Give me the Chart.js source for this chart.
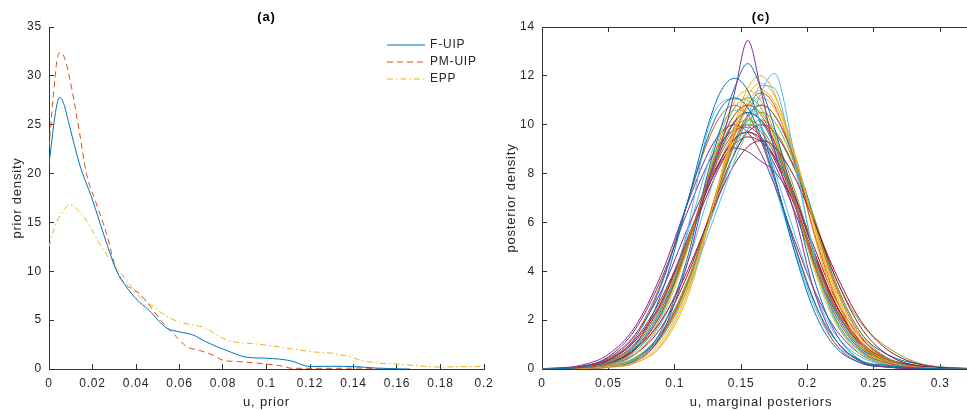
<!DOCTYPE html>
<html>
<head>
<meta charset="utf-8">
<script src="https://cdn.jsdelivr.net/npm/chart.js@4.4.0/dist/chart.umd.min.js"></script>
<style>
  html, body { margin: 0; padding: 0; background: #fff; overflow: hidden; width: 967px; height: 410px; }
  #priorChart { position: absolute; left: 0; top: 0; }
  #postChart { position: absolute; left: 500px; top: 0; }
</style>
</head>
<body>
<canvas id="priorChart" width="500" height="410"></canvas>
<canvas id="postChart" width="480" height="410"></canvas>
<script>
// ---- data, panel (a): prior densities
const fuipX = [0, 0.0034, 0.0049, 0.0067, 0.0095, 0.014, 0.020, 0.026, 0.031, 0.0356, 0.040, 0.046, 0.054, 0.060, 0.066, 0.072, 0.0816, 0.091, 0.100, 0.111, 0.120, 0.129, 0.140, 0.150, 0.160, 0.166];
const fuipY = [21.0, 26.8, 27.8, 27.2, 24.8, 21.0, 17.3, 13.2, 10.1, 8.4, 7.2, 6.0, 4.2, 3.8, 3.5, 2.8, 1.9, 1.2, 1.1, 0.85, 0.25, 0.28, 0.25, 0.1, 0.02, 0];
const pmuipX = [0, 0.0018, 0.0037, 0.0052, 0.0072, 0.0103, 0.0141, 0.0172, 0.0218, 0.0264, 0.031, 0.0356, 0.0417, 0.0479, 0.054, 0.0586, 0.0632, 0.0693, 0.0755, 0.080, 0.0877, 0.097, 0.106, 0.112, 0.130, 0.143, 0.152];
const pmuipY = [22.7, 27.5, 31.6, 32.4, 31.8, 28.9, 24.1, 20.0, 16.9, 13.9, 10.1, 8.6, 7.7, 6.0, 4.3, 3.3, 2.3, 1.9, 1.4, 0.9, 0.75, 0.58, 0.34, 0.07, 0.07, 0.1, 0];
const eppX = [0, 0.0026, 0.0057, 0.0095, 0.0126, 0.0172, 0.0233, 0.0294, 0.0356, 0.0417, 0.0479, 0.054, 0.060, 0.066, 0.072, 0.0785, 0.0847, 0.0939, 0.103, 0.112, 0.1215, 0.1307, 0.138, 0.1445, 0.152, 0.161, 0.1706, 0.180, 0.192, 0.200];
const eppY = [12.5, 14.6, 15.9, 16.8, 16.4, 15.2, 12.8, 10.8, 9.1, 7.4, 6.4, 5.4, 4.8, 4.5, 4.2, 3.3, 2.8, 2.6, 2.35, 2.05, 1.75, 1.6, 1.25, 0.85, 0.6, 0.5, 0.3, 0.2, 0.25, 0.25];
const priorXTicks = [0, 0.02, 0.04, 0.06, 0.08, 0.1, 0.12, 0.14, 0.16, 0.18, 0.2];
const priorYTicks = [0, 5, 10, 15, 20, 25, 30, 35];

// ---- data, panel (c): marginal posteriors (one row per run, on a shared u grid)
const postX = [0, 0.03, 0.05, 0.07, 0.09, 0.11, 0.125, 0.135, 0.145, 0.155, 0.165, 0.175, 0.19, 0.205, 0.22, 0.24, 0.26, 0.29, 0.322];
const posteriorY = [
  [0, .07, .34, 1.27, 3.45, 6.9, 9.5, 10.7, 11.1, 10.7, 9.5, 7.85, 5.1, 2.76, 1.27, .34, .15, .02, 0],
  [0, .05, .2, .77, 2.31, 5.15, 7.77, 9.33, 10.4, 10.8, 10.4, 9.33, 6.9, 4.33, 2.31, .77, .25, .04, 0],
  [0, .02, .1, .29, 1.14, 3.32, 5.93, 7.9, 9.69, 10.95, 11.4, 10.95, 8.83, 5.93, 3.32, 1.14, .35, .05, 0],
  [0, .02, .1, .3, 1.4, 4.4, 7.6, 9.2, 11.3, 13.45, 11.4, 9.0, 6.4, 3.2, 1.3, .3, .08, .01, 0],
  [0, .06, .27, .95, 2.54, 5.24, 7.59, 8.94, 9.87, 10.2, 9.87, 8.94, 6.82, 4.49, 2.54, .95, .3, .04, 0],
  [0, .02, .1, .4, 1.3, 3.3, 5.5, 7.0, 8.5, 9.8, 11.3, 12.1, 8.8, 4.6, 2.1, .7, .25, .04, 0],
  [0, .06, .25, .8, 1.99, 4.07, 6.03, 7.31, 8.38, 9.1, 9.35, 9.1, 7.88, 6.03, 4.07, 1.99, .8, .13, .01],
  [0, .02, .1, .36, 1.59, 4.64, 8.05, 9.9, 11.5, 12.5, 11.5, 9.9, 6.9, 3.69, 1.59, .36, .1, .02, 0],
  [0, .08, .32, 1.05, 2.67, 5.31, 7.55, 8.83, 9.69, 10.0, 9.69, 8.83, 6.82, 4.58, 2.67, 1.05, .32, .04, 0],
  [0, .02, .08, .24, 1.02, 3.16, 5.84, 7.93, 9.84, 11.2, 11.7, 11.2, 8.93, 5.84, 3.16, 1.02, .3, .04, 0],
  [0, .06, .3, 1.0, 2.7, 5.4, 7.4, 8.5, 9.05, 8.9, 8.5, 8.1, 6.8, 4.6, 2.6, 1.0, .35, .05, 0],
  [0, .02, .11, .46, 1.49, 3.68, 6.05, 7.69, 9.15, 10.14, 10.5, 10.14, 8.45, 6.05, 3.68, 1.49, .46, .05, 0],
  [0, .04, .18, .7, 2.2, 5.8, 9.8, 10.9, 11.05, 11.0, 10.0, 8.2, 5.6, 3.2, 1.5, .5, .15, .03, 0],
  [0, .09, .36, 1.14, 2.76, 5.3, 7.42, 8.6, 9.42, 9.7, 9.42, 8.6, 6.73, 4.61, 2.76, 1.14, .36, .05, 0],
  [0, .05, .21, .96, 3.1, 6.9, 9.96, 11.4, 11.9, 11.4, 9.96, 7.96, 4.84, 2.38, .96, .25, .08, .01, 0],
  [0, .02, .09, .4, 1.37, 3.56, 6.03, 7.78, 9.33, 10.4, 10.8, 10.4, 8.6, 6.03, 3.56, 1.37, .4, .05, 0],
  [0, .02, .13, .6, 2.02, 4.96, 7.9, 9.69, 10.95, 11.4, 10.95, 9.69, 6.92, 4.1, 2.02, .6, .2, .03, 0],
  [.01, .16, .6, 1.72, 3.89, 6.82, 8.83, 9.69, 10.0, 9.69, 8.83, 7.55, 5.31, 3.25, 1.72, .6, .16, .02, 0],
  [0, .03, .16, .69, 2.16, 5.08, 7.85, 9.51, 10.68, 11.1, 10.68, 9.51, 6.93, 4.23, 2.16, .69, .2, .03, 0],
  [0, .02, .1, .45, 1.5, 3.6, 5.8, 7.3, 8.9, 10.3, 11.6, 11.5, 8.4, 4.8, 2.2, .75, .25, .04, 0],
  [0, .03, .16, .6, 1.72, 3.89, 6.07, 7.55, 8.83, 9.69, 10.0, 9.69, 8.23, 6.07, 3.89, 1.72, .6, .08, .01],
  [0, .05, .23, .85, 2.44, 5.22, 7.69, 9.15, 10.14, 10.5, 10.14, 9.15, 6.88, 4.4, 2.44, .85, .4, .1, 0],
  [0, .09, .4, 1.37, 3.56, 6.9, 9.33, 10.4, 10.8, 10.4, 9.33, 7.78, 5.15, 2.8, 1.1, .25, .08, .01, 0],
  [0, .01, .07, .34, 1.27, 3.45, 6.0, 7.85, 9.51, 10.68, 11.1, 10.68, 8.72, 6.0, 3.45, 1.27, .4, .05, 0],
  [0, .12, .45, 1.4, 3.2, 5.8, 7.6, 8.6, 9.4, 9.7, 9.3, 8.4, 6.5, 4.3, 2.5, 1.0, .35, .06, 0],
  [0, .02, .1, .42, 1.4, 3.5, 5.8, 7.4, 8.8, 9.8, 10.2, 9.8, 8.3, 6.2, 3.9, 1.9, .9, .15, .02],
  [0, .04, .25, .9, 2.6, 5.6, 8.4, 9.9, 10.6, 10.4, 9.4, 7.6, 4.9, 2.6, 1.1, .35, .1, .02, 0],
  [0, .05, .2, .8, 2.3, 5.0, 7.5, 9.0, 10.1, 10.5, 10.2, 9.3, 7.2, 4.8, 2.8, 1.1, .4, .06, 0],
  [0, .03, .12, .45, 1.4, 3.6, 6.0, 7.7, 9.2, 10.3, 10.8, 10.4, 8.7, 6.2, 3.7, 1.5, .6, .15, .02],
  [0, .02, .09, .38, 1.3, 3.5, 6.1, 7.9, 9.6, 10.8, 11.3, 10.8, 8.5, 5.6, 3.1, 1.0, .3, .04, 0],
  [0, .01, .06, .25, .95, 3.0, 5.8, 8.0, 10.0, 11.5, 12.0, 11.3, 8.7, 5.5, 2.9, .9, .25, .03, 0],
  [0, .1, .5, 1.6, 3.7, 6.5, 8.4, 9.3, 9.8, 9.9, 9.5, 8.7, 7.0, 4.8, 2.8, 1.1, .35, .05, 0],
  [0, .05, .22, .8, 2.3, 5.1, 7.7, 9.3, 10.4, 10.8, 10.5, 9.6, 7.4, 4.8, 2.6, .9, .3, .05, 0],
  [0, .03, .15, .6, 1.9, 4.4, 7.0, 8.6, 9.6, 10.0, 9.8, 9.0, 6.9, 4.4, 2.3, .8, .25, .04, 0],
  [0, .1, .4, 1.2, 2.9, 5.3, 7.2, 8.4, 9.2, 9.5, 9.3, 8.7, 7.1, 5.0, 3.0, 1.3, .45, .07, 0]
];
const postXTicks = [0, 0.05, 0.1, 0.15, 0.2, 0.25, 0.3];
const postYTicks = [0, 2, 4, 6, 8, 10, 12, 14];

const lineColors = ['#0072BD', '#D95319', '#EDB120', '#7E2F8E', '#77AC30', '#4DBEEE', '#A2142F'];
const axisColor = '#333333';
const textColor = '#262626';

Chart.defaults.font.family = '"Liberation Sans", Arial, Helvetica, sans-serif';
Chart.defaults.color = textColor;
Chart.defaults.animation = false;

const toPoints = (xs, ys) => xs.map((x, i) => ({ x: x, y: ys[i] }));

// MATLAB-ish text is a bit wider than the canvas default
const spacing = {
  id: 'spacing',
  beforeUpdate(chart) { chart.ctx.letterSpacing = '0.8px'; },
  beforeDraw(chart) { chart.ctx.letterSpacing = '0.8px'; }
};

// legend with line samples, inside the top right corner of panel (a)
const lineLegend = {
  id: 'lineLegend',
  afterDatasetsDraw(chart) {
    const ctx = chart.ctx;
    const x0 = chart.chartArea.right - 97;
    ctx.save();
    ctx.font = '12px "Liberation Sans", Arial, sans-serif';
    ctx.textBaseline = 'middle';
    ctx.fillStyle = textColor;
    chart.data.datasets.forEach((ds, i) => {
      const y = 45 + i * 17;
      ctx.strokeStyle = ds.borderColor;
      ctx.lineWidth = 1.2;
      ctx.setLineDash(ds.borderDash || []);
      ctx.beginPath();
      ctx.moveTo(x0, y);
      ctx.lineTo(x0 + 38, y);
      ctx.stroke();
      ctx.setLineDash([]);
      ctx.fillText(ds.label, x0 + 43, y);
    });
    ctx.restore();
  }
};

// fixed-size axis boxes so the plot areas land where the reference has them
function fixSize(prop, size) {
  return (s) => {
    s[prop] = size;
    s.paddingLeft = 0; s.paddingRight = 0; s.paddingTop = 0; s.paddingBottom = 0;
  };
}

function axis(ticks, min, max, extra) {
  return Object.assign({
    type: 'linear',
    min: min,
    max: max,
    afterBuildTicks: (scale) => { scale.ticks = ticks.map(v => ({ value: v })); },
    border: { display: true, color: axisColor, width: 1 },
    grid: { drawOnChartArea: false, drawTicks: true, tickLength: -5, color: axisColor },
    ticks: { color: textColor, font: { size: 12 }, padding: 12, callback: (v) => String(v) }
  }, extra);
}

new Chart(document.getElementById('priorChart'), {
  type: 'line',
  data: {
    datasets: [
      { label: 'F-UIP', data: toPoints(fuipX, fuipY), borderColor: '#0072BD', borderWidth: 1 },
      { label: 'PM-UIP', data: toPoints(pmuipX, pmuipY), borderColor: '#D95319', borderWidth: 1, borderDash: [6, 4] },
      { label: 'EPP', data: toPoints(eppX, eppY), borderColor: '#EDB120', borderWidth: 1, borderDash: [6, 3, 1.5, 3] }
    ]
  },
  options: {
    responsive: false,
    layout: { padding: { left: 0, right: 16, top: 0, bottom: 0 } },
    elements: { point: { radius: 0 }, line: { cubicInterpolationMode: 'monotone', fill: false } },
    plugins: {
      legend: { display: false },
      tooltip: { enabled: false },
      title: {
        display: true, text: '(a)', color: '#000', fullSize: false,
        font: { size: 13, weight: 'bold' }, padding: { top: 9.2, bottom: 2.2 }
      }
    },
    scales: {
      x: axis(priorXTicks, 0, 0.2, {
        afterFit: fixSize('height', 41),
        title: { display: true, text: 'u, prior', color: textColor, font: { size: 13 }, padding: { top: 0, bottom: 0 } }
      }),
      y: axis(priorYTicks, 0, 35, {
        afterFit: fixSize('width', 49),
        title: { display: true, text: 'prior density', color: textColor, font: { size: 13 }, padding: { top: 10, bottom: 0 } }
      })
    }
  },
  plugins: [spacing, lineLegend]
});

new Chart(document.getElementById('postChart'), {
  type: 'line',
  data: {
    datasets: posteriorY.map((ys, i) => ({
      label: 'run ' + (i + 1),
      data: toPoints(postX, ys),
      borderColor: lineColors[i % lineColors.length],
      borderWidth: 1
    }))
  },
  options: {
    responsive: false,
    layout: { padding: 0 },
    elements: { point: { radius: 0 }, line: { cubicInterpolationMode: 'monotone', fill: false } },
    plugins: {
      legend: { display: false },
      tooltip: { enabled: false },
      title: {
        display: true, text: '(c)', color: '#000', fullSize: false,
        font: { size: 13, weight: 'bold' }, padding: { top: 9.2, bottom: 2.2 }
      }
    },
    scales: {
      x: axis(postXTicks, 0, 0.33, {
        afterFit: fixSize('height', 41),
        title: { display: true, text: 'u, marginal posteriors', color: textColor, font: { size: 13 }, padding: { top: 0, bottom: 0 } }
      }),
      x2: axis(postXTicks, 0, 0.33, {
        position: 'top',
        afterFit: fixSize('height', 0),
        ticks: { display: false }
      }),
      y: axis(postYTicks, 0, 14, {
        afterFit: fixSize('width', 42),
        title: { display: true, text: 'posterior density', color: textColor, font: { size: 13 }, padding: { top: 4, bottom: 0 } }
      })
    }
  },
  plugins: [spacing]
});
</script>
</body>
</html>
